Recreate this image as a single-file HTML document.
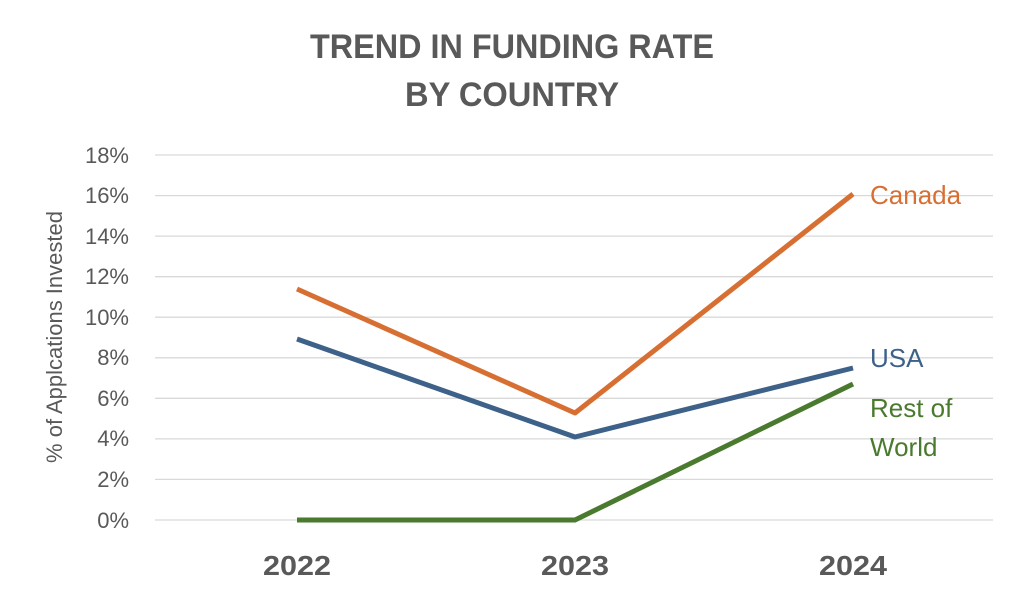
<!DOCTYPE html>
<html><head><meta charset="utf-8"><style>
body{margin:0;background:#fff;}
svg{display:block;font-family:"Liberation Sans",sans-serif;}
</style></head><body>
<svg width="1024" height="603" viewBox="0 0 1024 603">
<g fill="#595959" font-weight="bold" font-size="34" text-anchor="middle">
<text x="512" y="58" textLength="404" lengthAdjust="spacingAndGlyphs">TREND IN FUNDING RATE</text>
<text x="512" y="106" textLength="214" lengthAdjust="spacingAndGlyphs">BY COUNTRY</text>
</g>
<g stroke="#d9d9d9" stroke-width="1.3">
<line x1="155" x2="993" y1="155" y2="155"/>
<line x1="155" x2="993" y1="195.6" y2="195.6"/>
<line x1="155" x2="993" y1="236.1" y2="236.1"/>
<line x1="155" x2="993" y1="276.7" y2="276.7"/>
<line x1="155" x2="993" y1="317.2" y2="317.2"/>
<line x1="155" x2="993" y1="357.8" y2="357.8"/>
<line x1="155" x2="993" y1="398.3" y2="398.3"/>
<line x1="155" x2="993" y1="438.9" y2="438.9"/>
<line x1="155" x2="993" y1="479.4" y2="479.4"/>
<line x1="155" x2="993" y1="520" y2="520"/>
</g>
<g fill="#595959" font-size="22" text-anchor="end">
<text x="129" y="163">18%</text>
<text x="129" y="203">16%</text>
<text x="129" y="244">14%</text>
<text x="129" y="284">12%</text>
<text x="129" y="325">10%</text>
<text x="129" y="365">8%</text>
<text x="129" y="406">6%</text>
<text x="129" y="446">4%</text>
<text x="129" y="487">2%</text>
<text x="129" y="528">0%</text>
</g>
<text transform="translate(62,337) rotate(-90)" fill="#595959" font-size="22" text-anchor="middle">% of Applcations Invested</text>
<g fill="#595959" font-size="28" font-weight="bold" text-anchor="middle">
<text x="297" y="575" textLength="68" lengthAdjust="spacingAndGlyphs">2022</text>
<text x="575" y="575" textLength="68" lengthAdjust="spacingAndGlyphs">2023</text>
<text x="853" y="575" textLength="68" lengthAdjust="spacingAndGlyphs">2024</text>
</g>
<g fill="none" stroke-width="5" stroke-linejoin="round">
<polyline points="297,520 575,520 853,384" stroke="#4a7a2e"/>
<polyline points="297,339 575,437 853,368" stroke="#3d6189"/>
<polyline points="297,289 575,413 853,194" stroke="#d86f32"/>
</g>
<g font-size="26">
<text x="870" y="204" fill="#d86f32">Canada</text>
<text x="870" y="367" fill="#3d6189">USA</text>
<text x="870" y="417" fill="#4a7a2e">Rest of</text>
<text x="870" y="456" fill="#4a7a2e">World</text>
</g>
</svg>
</body></html>
